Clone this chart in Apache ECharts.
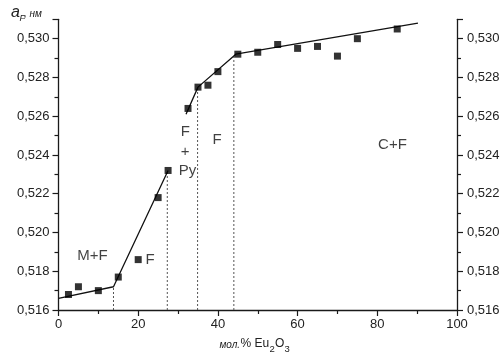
<!DOCTYPE html>
<html>
<head>
<meta charset="utf-8">
<script src="https://cdn.jsdelivr.net/npm/echarts@6/dist/echarts.min.js"></script>
<style>
html,body{margin:0;padding:0;background:#fff;}
#chart{width:503px;height:356px;}
</style>
</head>
<body>
<div id="chart"></div>
<script>
// Measured points: mol.% Eu2O3 vs lattice parameter a_F (nm)
const molPercent = [2.5, 5, 10, 15, 20, 25, 27.5, 32.5, 35, 37.5, 40, 45, 50, 55, 60, 65, 70, 75, 85];
const latticeA = [0.5168, 0.5172, 0.5170, 0.5177, 0.5186, 0.5218, 0.5232, 0.5264, 0.5275, 0.5276, 0.5283, 0.5292, 0.5293, 0.5297, 0.5295, 0.5296, 0.5291, 0.5300, 0.5305];

// Fitted solid lines
const fitLowX = [0, 13.8, 27.5];
const fitLowY = [0.5166, 0.5172, 0.5232];
const fitHighX = [32.0, 35, 44.5, 90.2];
const fitHighY = [0.5261, 0.5275, 0.5292, 0.5308];

// Dotted phase boundaries
const boundaryX = [13.8, 27.3, 34.9, 44.0];
const boundaryTop = [0.5172, 0.5232, 0.5275, 0.5292];

// Phase-region labels
const regionText = ['M+F', 'F', 'F', '+', 'Py', 'F', 'C+F'];
const regionX = [8.5, 23.0, 31.8, 31.8, 32.4, 39.8, 83.8];
const regionY = [0.5188, 0.5186, 0.52517, 0.52415, 0.52317, 0.5248, 0.5245];

// Axis settings
const xMin = 0, xMax = 100, xStep = 20;
const yMin = 0.516, yMax = 0.531, yStep = 0.002;

const FONT = '"Liberation Sans", Arial, sans-serif';
const zip = (a, b) => a.map((v, i) => [v, b[i]]);
const fmtY = v => {
  const k = Math.round(v * 1000);
  return k % 2 === 0 ? (k / 1000).toFixed(3).replace('.', ',') : '';
};

const yAxisBase = (pos) => ({
  type: 'value', position: pos, min: yMin, max: yMax, interval: yStep,
  axisLine: { show: true, lineStyle: { color: '#1a1a1a', width: 1.3 } },
  axisTick: { show: true, inside: false, length: 6, lineStyle: { color: '#1a1a1a', width: 1.2 } },
  minorTick: { show: true, splitNumber: 2, length: 4, lineStyle: { color: '#1a1a1a', width: 1.2 } },
  splitLine: { show: false },
  axisLabel: { formatter: fmtY, fontFamily: FONT, fontSize: 13, color: '#222', margin: pos === 'left' ? 9 : 10, showMaxLabel: true }
});

const series = [];
series.push({
  type: 'line', data: zip(fitLowX, fitLowY), symbol: 'none', silent: true,
  lineStyle: { color: '#111', width: 1.3 }, z: 3
});
series.push({
  type: 'line', data: zip(fitHighX, fitHighY), symbol: 'none', silent: true,
  lineStyle: { color: '#111', width: 1.3 }, z: 3
});
boundaryX.forEach((x, i) => {
  series.push({
    type: 'line', data: [[x, yMin], [x, boundaryTop[i]]], symbol: 'none', silent: true,
    lineStyle: { color: '#555', width: 1, type: [2, 2] }, z: 2
  });
});
series.push({
  type: 'scatter', data: zip(molPercent, latticeA), symbol: 'rect', symbolSize: 7,
  itemStyle: { color: '#000' }, z: 4
});
series.push({
  type: 'scatter', silent: true, symbolSize: 0,
  data: regionText.map((t, i) => ({ value: [regionX[i], regionY[i]], name: t })),
  label: {
    show: true, position: 'inside', formatter: p => p.name,
    fontFamily: FONT, fontSize: 15, color: '#111', align: 'center', verticalAlign: 'middle'
  }, z: 5
});

const chart = echarts.init(document.getElementById('chart'), null, { renderer: 'canvas' });
chart.setOption({
  animation: false,
  backgroundColor: '#fff',
  grid: { left: 58.5, right: 46, top: 19.3, bottom: 46, containLabel: false },
  xAxis: {
    type: 'value', min: xMin, max: xMax, interval: xStep,
    axisLine: { show: true, onZero: false, lineStyle: { color: '#1a1a1a', width: 1.3 } },
    axisTick: { show: true, length: 6, lineStyle: { color: '#1a1a1a', width: 1.2 } },
    minorTick: { show: true, splitNumber: 2, length: 4, lineStyle: { color: '#1a1a1a', width: 1.2 } },
    splitLine: { show: false },
    axisLabel: { fontFamily: FONT, fontSize: 13, color: '#222', margin: 8 }
  },
  yAxis: [yAxisBase('left'), yAxisBase('right')],
  series: series,
  graphic: [
    { type: 'text', left: 11, top: 5, style: { text: 'a', font: 'italic 16px ' + FONT, fill: '#222' } },
    { type: 'text', left: 19.5, top: 14, style: { text: 'F', font: 'italic 9px ' + FONT, fill: '#222' } },
    { type: 'text', left: 24, top: 9, style: { text: ', нм', font: 'italic 10px ' + FONT, fill: '#222' } },
    { type: 'text', left: 219.5, top: 340, style: { text: 'мол.', font: 'italic 10px ' + FONT, fill: '#222' } },
    { type: 'text', left: 240.5, top: 338, style: { text: '% Eu', font: '12px ' + FONT, fill: '#222' } },
    { type: 'text', left: 269.5, top: 344, style: { text: '2', font: '9.5px ' + FONT, fill: '#222' } },
    { type: 'text', left: 275, top: 338, style: { text: 'O', font: '12px ' + FONT, fill: '#222' } },
    { type: 'text', left: 284.5, top: 344, style: { text: '3', font: '9.5px ' + FONT, fill: '#222' } }
  ]
});
</script>
</body>
</html>
